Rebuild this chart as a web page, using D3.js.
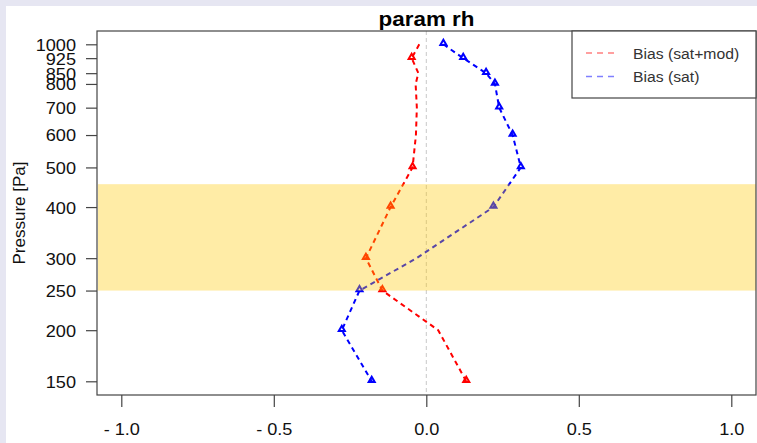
<!DOCTYPE html>
<html>
<head>
<meta charset="utf-8">
<script src="https://cdn.jsdelivr.net/npm/d3@7"></script>
<style>
  html, body { margin: 0; padding: 0; background: #e6e6f2; }
  svg { display: block; }
  text { font-family: "Liberation Sans", Arial, Helvetica, sans-serif; }
</style>
</head>
<body>
<svg id="chart" width="757" height="443"></svg>
<script>
// ---- data ----
const title = "param rh";
const yLabel = "Pressure [Pa]";
const levels = [1000, 925, 850, 800, 700, 600, 500, 400, 300, 250, 200, 150];
const biasSatMod = [-0.023, -0.048, -0.026, -0.035, -0.031, -0.034, -0.045, -0.117, -0.198, -0.144, 0.039, 0.131];
const biasSat = [0.056, 0.121, 0.196, 0.225, 0.239, 0.283, 0.310, 0.220, -0.032, -0.219, -0.277, -0.179];
const satModMarkers = [0, 1, 0, 0, 0, 0, 1, 1, 1, 1, 0, 1];
const satMarkers = [1, 1, 1, 1, 1, 1, 1, 1, 0, 1, 1, 1];
const xTicks = [-1.0, -0.5, 0.0, 0.5, 1.0];
const xTickLabels = ["- 1.0", "- 0.5", "0.0", "0.5", "1.0"];
const yTicks = [1000, 925, 850, 800, 700, 600, 500, 400, 300, 250, 200, 150];
const yTickLabels = ["1000", "925", "850", "800", "700", "600", "500", "400", "300", "250", "200", "150"];
const bandRange = [455, 250];
const seriesNames = ["Bias (sat+mod)", "Bias (sat)"];
const seriesColors = ["#ff0000", "#0000ff"];
const legendColors = ["rgba(255,0,0,0.5)", "rgba(0,0,255,0.5)"];

// ---- layout ----
const svg = d3.select("#chart");
const plot = { left: 97, top: 31, right: 756, bottom: 395 };

svg.append("rect").attr("x", 6).attr("y", 6).attr("width", 751).attr("height", 437).attr("fill", "#ffffff");

const x = d3.scaleLinear().domain([-1, 1]).range([121.3, 731.3]);
const y = d3.scaleLog().domain([1000, 150]).range([44.3, 381.3]);

// zero line
svg.append("line")
  .attr("x1", x(0)).attr("x2", x(0))
  .attr("y1", plot.top).attr("y2", plot.bottom)
  .attr("stroke", "#c8c8c8").attr("stroke-width", 1).attr("stroke-dasharray", "4,3");

// series
const series = [
  { values: biasSatMod, markers: satModMarkers, color: seriesColors[0] },
  { values: biasSat, markers: satMarkers, color: seriesColors[1] }
];
const line = d3.line().x(d => x(d.v)).y(d => y(d.p));
const tri = d3.symbol().type(d3.symbolTriangle).size(16);

series.forEach(s => {
  const pts = levels.map((p, i) => ({ p, v: s.values[i], m: s.markers[i] }));
  svg.append("path").datum(pts)
    .attr("d", line)
    .attr("fill", "none")
    .attr("stroke", s.color)
    .attr("stroke-width", 2)
    .attr("stroke-dasharray", "5,4");
  svg.selectAll(null).data(pts.filter(d => d.m)).enter().append("path")
    .attr("d", tri)
    .attr("transform", d => `translate(${x(d.v)},${y(d.p) - 1})`)
    .attr("fill", "none")
    .attr("stroke", s.color)
    .attr("stroke-width", 2);
});

// band on top (translucent)
svg.append("rect")
  .attr("x", plot.left + 1).attr("width", plot.right - plot.left - 1)
  .attr("y", y(bandRange[0])).attr("height", y(bandRange[1]) - y(bandRange[0]))
  .attr("fill", "rgb(255,200,0)").attr("fill-opacity", 0.35);

// box
svg.append("rect")
  .attr("x", plot.left).attr("y", plot.top)
  .attr("width", plot.right - plot.left).attr("height", plot.bottom - plot.top)
  .attr("fill", "none").attr("stroke", "#444").attr("stroke-width", 1.2);

// x axis
const xAxis = d3.axisBottom(x).tickValues(xTicks).tickSize(12).tickPadding(0)
  .tickFormat((d, i) => xTickLabels[i]);
const gx = svg.append("g").attr("transform", `translate(0,${plot.bottom})`).call(xAxis);
gx.select(".domain").remove();
gx.selectAll(".tick line").attr("stroke", "#444").attr("stroke-width", 1.2);
gx.selectAll(".tick text")
  .attr("y", 0).attr("dy", null)
  .attr("transform", "translate(0,40) scale(1.1,1)")
  .attr("font-size", 16.5).attr("fill", "#111")
  .style("font-family", "'Liberation Sans', Arial, sans-serif");

// y axis
const yAxis = d3.axisLeft(y).tickValues(yTicks).tickSize(11).tickPadding(0)
  .tickFormat((d, i) => yTickLabels[i]);
const gy = svg.append("g").attr("transform", `translate(${plot.left},0)`).call(yAxis);
gy.select(".domain").remove();
gy.selectAll(".tick line").attr("stroke", "#444").attr("stroke-width", 1.2);
gy.selectAll(".tick text")
  .attr("x", 0).attr("dy", "0.36em")
  .attr("transform", "translate(-21,0) scale(1.1,1)")
  .attr("font-size", 16.5).attr("fill", "#111")
  .style("font-family", "'Liberation Sans', Arial, sans-serif");

// title
svg.append("text")
  .attr("transform", `translate(${(plot.left + plot.right) / 2},26) scale(1.15,1)`)
  .attr("text-anchor", "middle")
  .attr("font-size", 19.5).attr("font-weight", "bold").attr("fill", "#000")
  .text(title);

// y label
svg.append("text")
  .attr("transform", "translate(25,213) rotate(-90)")
  .attr("text-anchor", "middle")
  .attr("font-size", 17).attr("fill", "#111")
  .text(yLabel);

// legend
const lg = svg.append("g");
lg.append("rect")
  .attr("x", 572).attr("y", plot.top).attr("width", plot.right - 572).attr("height", 67)
  .attr("fill", "#fff").attr("stroke", "#444").attr("stroke-width", 1.2);
seriesNames.forEach((name, i) => {
  const ly = 53 + i * 23.5;
  lg.append("line")
    .attr("x1", 586).attr("x2", 616).attr("y1", ly).attr("y2", ly)
    .attr("stroke", legendColors[i]).attr("stroke-width", 1.5).attr("stroke-dasharray", "6,5");
  lg.append("text")
    .attr("transform", `translate(633,${ly + 5.5}) scale(1.05,1)`)
    .attr("font-size", 15).attr("fill", "#333")
    .text(name);
});
</script>
</body>
</html>
